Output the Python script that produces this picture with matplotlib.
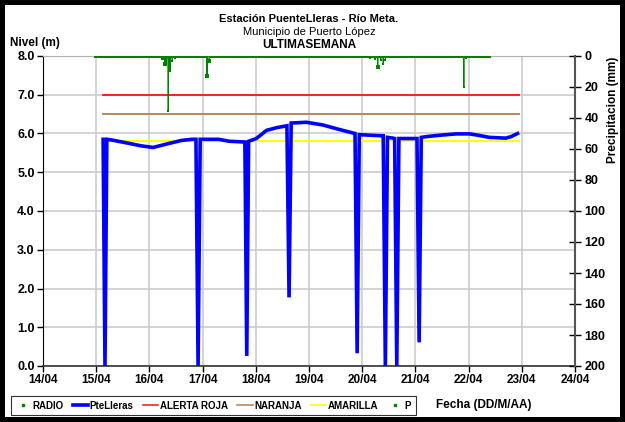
import numpy as np
import matplotlib
matplotlib.use("Agg")
from matplotlib import pyplot as plt
from matplotlib.lines import Line2D

plt.rcParams['font.family'] = ['Liberation Sans', 'DejaVu Sans']

# Day axis labels (14/04 .. 24/04).
day_labels = ["14/04", "15/04", "16/04", "17/04", "18/04", "19/04",
              "20/04", "21/04", "22/04", "23/04", "24/04"]
day_ticks = [14, 15, 16, 17, 18, 19, 20, 21, 22, 23, 24]

# Water level at PteLleras (day of April, metres).
level_day = [15.13, 15.165, 15.20, 15.3, 15.6, 15.85, 16.07, 16.3, 16.6, 16.8, 16.875,
             16.915, 16.955, 17.3, 17.5, 17.795, 17.83, 17.865, 18.01, 18.2, 18.39,
             18.585, 18.625, 18.665, 18.95, 19.26, 19.58, 19.865, 19.905, 19.945, 20.39,
             20.395, 20.435, 20.475, 20.58, 20.61, 20.65, 20.69, 21.02, 21.03, 21.07,
             21.11, 21.27, 21.5, 21.77, 22.02, 22.2, 22.39, 22.7, 22.8, 22.92]
level_m = [5.85, 0.0, 5.85, 5.83, 5.75, 5.68, 5.64, 5.72, 5.82, 5.85, 5.85,
           0.0, 5.85, 5.85, 5.80, 5.78, 0.26, 5.80, 5.87, 6.08, 6.15,
           6.20, 1.77, 6.27, 6.29, 6.22, 6.10, 6.00, 0.33, 5.97, 5.94,
           5.94, 0.0, 5.90, 5.88, 5.87, 0.0, 5.87, 5.87, 5.87, 0.61,
           5.90, 5.93, 5.96, 5.99, 5.99, 5.95, 5.90, 5.88, 5.92, 6.00]

# Alert thresholds (m) and span they are drawn over.
alert_span = [15.12, 22.95]
alerta_roja = 7.0
naranja = 6.5
amarilla = 5.8

# 10-minute precipitation (mm): record start/end and the non-zero steps.
precip_start = 15.0
precip_end = 22.4
rain_step = [180, 186, 190, 195, 200, 206, 212, 300, 306, 740, 755, 762, 770, 777, 783, 995, 1000]
rain_mm = [1.3, 5.0, 3.0, 35.5, 9.5, 3.0, 1.5, 13.0, 3.0, 1.0, 2.0, 7.3, 2.5, 5.0, 2.5, 19.8, 1.0]

steps = np.arange(int(round((precip_end - precip_start) * 144)) + 1)
precip_day = precip_start + steps / 144.0
precip_mm = np.zeros(len(steps))
precip_mm[rain_step] = rain_mm

fig = plt.figure(figsize=(6.25, 4.22), dpi=100)
fig.patch.set_facecolor('white')
fig.patch.set_edgecolor('black')
fig.patch.set_linewidth(6)

ax = fig.add_axes([43/625, 1-366/422, (575-43)/625, (366-56)/422])
ax.set_xlim(14, 24)
ax.set_ylim(0, 8)
ax.set_xticks(day_ticks)
ax.set_xticklabels(day_labels, fontweight='bold', fontsize=8.5)
ax.set_yticks(np.arange(0, 8.1, 1.0))
ax.set_yticklabels([f"{v:.1f}" for v in np.arange(0, 8.1, 1.0)], fontweight='bold', fontsize=9)
ax.grid(True, color='#c8c8c8', linewidth=1.1)
ax.set_axisbelow(True)
ax.tick_params(axis='both', length=4, width=1, pad=2, colors='black')
ax.spines['top'].set_color('#b0b0b0')
ax.spines['right'].set_visible(False)
ax.spines['left'].set_color('black')
ax.spines['bottom'].set_color('#333333')
ax.spines['bottom'].set_linewidth(1.2)

ax.plot(alert_span, [alerta_roja]*2, color='#ff2020', lw=1.4, zorder=3)
ax.plot(alert_span, [naranja]*2, color='#b8875a', lw=1.4, zorder=3)
ax.plot(alert_span, [amarilla]*2, color='#ffff00', lw=1.4, zorder=3)
ax.plot(level_day, level_m, color='#0000ff', lw=2.6, solid_joinstyle='miter', zorder=4)

ax2 = ax.twinx()
ax2.set_ylim(200, 0)
ax2.set_yticks(np.arange(0, 201, 20))
ax2.set_yticklabels([str(v) for v in range(0, 201, 20)], fontweight='bold', fontsize=9)
ax2.tick_params(axis='y', direction='inout', length=8, width=1, colors='black', pad=3)
ax2.spines['right'].set_color('#555555')
ax2.spines['right'].set_linewidth(1.5)
for s in ['top', 'left', 'bottom']:
    ax2.spines[s].set_visible(False)
ax2.plot(precip_day, precip_mm, color='#008000', lw=0.8, zorder=5)
# dotted-looking baseline: one marker per hour
ax2.plot(precip_day[::6], precip_mm[::6], color='#008000', ls='none', marker='s', ms=2.4,
         markeredgewidth=0, zorder=5)
ax2.plot(precip_day[rain_step], precip_mm[rain_step], color='#008000', ls='none',
         marker='s', ms=1.6, markeredgewidth=0, zorder=5)

# Titles and axis captions.
fig.text(309/625, 1-19/422, "Estación PuenteLleras - Río Meta.", ha='center', va='center',
         fontsize=8, fontweight='bold')
fig.text(309/625, 1-32/422, "Municipio de Puerto López", ha='center', va='center', fontsize=8)
fig.text(309/625, 1-45/422, "ULTIMASEMANA", ha='center', va='center',
         fontsize=8.5, fontweight='bold')
fig.text(10/625, 1-43/422, "Nivel (m)", ha='left', va='center', fontsize=8.5, fontweight='bold')
fig.text(613/625, 1-110/422, "Precipitacion (mm)", ha='center', va='center', rotation=90,
         fontsize=8.5, fontweight='bold')
fig.text(436/625, 1-405/422, "Fecha (DD/M/AA)", ha='left', va='center',
         fontsize=8.5, fontweight='bold')

handles = [
    Line2D([], [], color='#008000', ls='none', marker='s', ms=2),
    Line2D([], [], color='#0000ff', lw=2.6),
    Line2D([], [], color='#ff2020', lw=1.2),
    Line2D([], [], color='#b8875a', lw=1.2),
    Line2D([], [], color='#ffff00', lw=1.2),
    Line2D([], [], color='#008000', ls='none', marker='s', ms=2),
]
labels = ["RADIO", "PteLleras", "ALERTA ROJA", "NARANJA", "AMARILLA", "P"]
leg = fig.legend(handles, labels, loc='lower left', bbox_to_anchor=(11/625, 1-415/422),
                 ncol=6, prop={'weight': 'bold', 'size': 7}, frameon=True,
                 fancybox=False, edgecolor='black', handlelength=1.6, handletextpad=0.15,
                 columnspacing=0.95, borderpad=0.45, borderaxespad=0)
leg.get_frame().set_linewidth(0.8)

fig.savefig("out.png", dpi=100, facecolor=fig.get_facecolor(), edgecolor=fig.get_edgecolor())
